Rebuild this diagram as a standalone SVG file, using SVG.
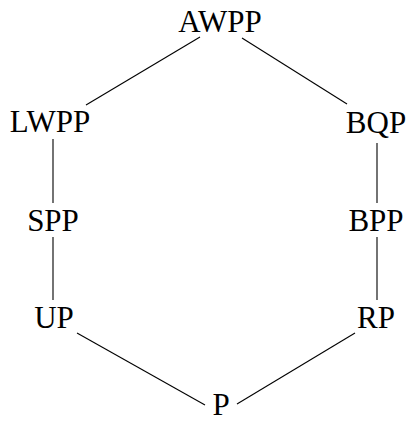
<svg xmlns="http://www.w3.org/2000/svg" width="411" height="422" viewBox="0 0 411 422">
<style>
text{font-family:"Liberation Serif","DejaVu Serif",serif;font-size:31px;fill:#000;text-anchor:middle}
line{stroke:#000;stroke-width:1.1}
</style>
<rect width="411" height="422" fill="#fff"/>
<g id="connectors">
<line x1="200" y1="37" x2="86" y2="105"/>
<line x1="242" y1="38" x2="347" y2="104"/>
<line x1="53" y1="139" x2="53" y2="203"/>
<line x1="53" y1="237" x2="53" y2="300"/>
<line x1="377" y1="143" x2="377" y2="203"/>
<line x1="377" y1="237" x2="377" y2="300"/>
<line x1="77" y1="333" x2="205" y2="405"/>
<line x1="355" y1="333" x2="237" y2="404"/>
</g>
<g id="AWPP"><text x="220" y="32">AWPP</text></g>
<g id="LWPP"><text x="50" y="132">LWPP</text></g>
<g id="BQP"><text x="376" y="133">BQP</text></g>
<g id="SPP"><text x="53" y="231">SPP</text></g>
<g id="BPP"><text x="376" y="231">BPP</text></g>
<g id="UP"><text x="54" y="328">UP</text></g>
<g id="RP"><text x="376" y="328">RP</text></g>
<g id="P"><text x="221" y="415">P</text></g>
</svg>
